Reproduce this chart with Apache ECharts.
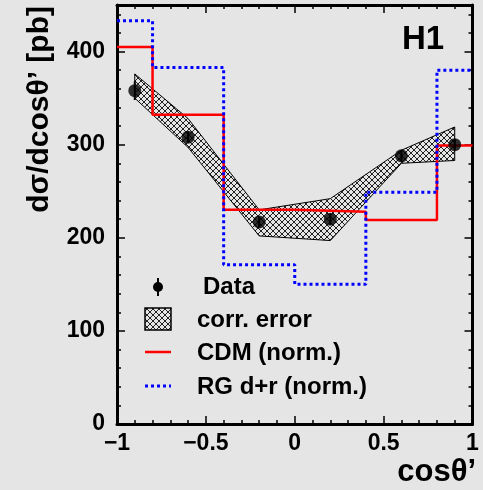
<!DOCTYPE html>
<html>
<head>
<meta charset="utf-8">
<script src="https://cdn.jsdelivr.net/npm/echarts@6/dist/echarts.min.js"></script>
<style>
  html, body { margin: 0; padding: 0; background: #e5e5e5; }
  #chart { width: 483px; height: 490px; }
</style>
</head>
<body>
<div id="chart"></div>
<script>
// data points (H1) with small stat. errors
const pointX = [-0.9, -0.6, -0.2, 0.2, 0.6, 0.9];
const pointY = [358, 308, 217, 220, 288, 300];
const pointErr = [10, 6, 6, 6, 6, 6];
// correlated error band
const bandLow = [350, 297, 202, 197, 280, 283];
const bandHigh = [376, 328, 230, 242, 294, 319];
// model histograms
const binEdges = [-1, -0.8, -0.4, 0, 0.4, 0.8, 1];
const cdmValues = [405, 332, 230, 228, 219, 299];
const rgValues = [433, 383, 171, 150, 249, 380];
// tick labels
const xTickValues = [-1, -0.5, 0, 0.5, 1];
const xTickLabels = ['\u22121', '\u22120.5', '0', '0.5', '1'];
const yTickValues = [0, 100, 200, 300, 400];

const FONT = '"Liberation Sans", Arial, sans-serif';

// cross-hatch pattern for the band
const hatch = document.createElement('canvas');
hatch.width = 6;
hatch.height = 6;
const hc = hatch.getContext('2d');
hc.fillStyle = 'rgba(0,0,0,0.85)';
for (let i = 0; i < 6; i++) {
  hc.fillRect(i, i, 1, 1);
  hc.fillRect(5 - i, i, 1, 1);
}
const hatchFill = { image: hatch, repeat: 'repeat' };

function stepData(values) {
  return binEdges.map((x, i) => [x, values[Math.min(i, values.length - 1)]]);
}

const tickStyle = { color: '#000', width: 1.5 };
function xAxis(pos, showLabel) {
  return {
    type: 'value', position: pos, min: -1, max: 1, interval: 0.5,
    axisLine: { show: true, onZero: false, lineStyle: { color: '#000', width: 3 } },
    axisTick: { show: true, inside: true, length: 8, lineStyle: tickStyle },
    minorTick: { show: true, splitNumber: 5, length: 4, lineStyle: tickStyle },
    splitLine: { show: false },
    axisLabel: {
      show: showLabel, margin: 8, color: '#000', fontSize: 23, fontWeight: 'bold', fontFamily: FONT,
      formatter(v) {
        const i = xTickValues.findIndex(t => Math.abs(t - v) < 1e-6);
        return i >= 0 ? xTickLabels[i] : '';
      },
    },
  };
}
function yAxis(pos, interval, len, showLine, showLabel) {
  return {
    type: 'value', position: pos, min: 0, max: 450, interval: interval,
    axisLine: { show: showLine, onZero: false, lineStyle: { color: '#000', width: 3 } },
    axisTick: { show: true, inside: true, length: len, lineStyle: tickStyle },
    splitLine: { show: false },
    axisLabel: {
      show: showLabel, margin: 12, color: '#000', fontSize: 23, fontWeight: 'bold', fontFamily: FONT,
      formatter(v) { return yTickValues.includes(v) ? String(v) : ''; },
    },
  };
}

const chart = echarts.init(document.getElementById('chart'));
chart.setOption({
  animation: false,
  backgroundColor: '#e5e5e5',
  grid: { left: 117, right: 10.5, top: 5, bottom: 66 },
  xAxis: [xAxis('bottom', true), xAxis('top', false)],
  yAxis: [
    yAxis('left', 100, 8, true, true),
    yAxis('left', 20, 4, false, false),
    yAxis('right', 100, 8, true, false),
    yAxis('right', 20, 4, false, false),
  ],
  series: [
    {
      name: 'corr. error',
      type: 'custom',
      data: [[pointX[0], bandLow[0]]],
      renderItem(params, api) {
        const pts = [];
        pointX.forEach((x, i) => pts.push(api.coord([x, bandHigh[i]])));
        for (let i = pointX.length - 1; i >= 0; i--) pts.push(api.coord([pointX[i], bandLow[i]]));
        return {
          type: 'polygon',
          shape: { points: pts },
          style: { fill: hatchFill, stroke: '#000', lineWidth: 1 },
        };
      },
      z: 1,
    },
    {
      name: 'CDM (norm.)',
      type: 'line',
      step: 'end',
      symbol: 'none',
      data: stepData(cdmValues),
      lineStyle: { color: '#ff0000', width: 2.5 },
      z: 2,
    },
    {
      name: 'RG d+r (norm.)',
      type: 'line',
      step: 'end',
      symbol: 'none',
      data: stepData(rgValues),
      lineStyle: { color: '#0000ff', width: 3, type: [3, 3] },
      z: 3,
    },
    {
      name: 'errors',
      type: 'custom',
      data: pointX.map((x, i) => [x, pointY[i] - pointErr[i], pointY[i] + pointErr[i]]),
      encode: { x: 0, y: [1, 2] },
      renderItem(params, api) {
        const lo = api.coord([api.value(0), api.value(1)]);
        const hi = api.coord([api.value(0), api.value(2)]);
        return {
          type: 'line',
          shape: { x1: lo[0], y1: lo[1], x2: hi[0], y2: hi[1] },
          style: { stroke: '#000', lineWidth: 2 },
        };
      },
      z: 4,
    },
    {
      name: 'Data',
      type: 'scatter',
      symbol: 'circle',
      symbolSize: 13,
      itemStyle: { color: '#000' },
      data: pointX.map((x, i) => [x, pointY[i]]),
      z: 5,
    },
  ],
  graphic: [
    // axis titles
    {
      type: 'text', x: 40, y: 6, rotation: Math.PI / 2,
      style: { text: 'd\u03c3/dcos\u03b8\u2019 [pb]', align: 'right', verticalAlign: 'middle',
        font: 'bold 30px ' + FONT, fill: '#000' },
    },
    {
      type: 'text', x: 476, y: 472,
      style: { text: 'cos\u03b8\u2019', align: 'right', verticalAlign: 'middle',
        font: 'bold 31px ' + FONT, fill: '#000' },
    },
    {
      type: 'text', x: 423, y: 40,
      style: { text: 'H1', align: 'center', verticalAlign: 'middle',
        font: 'bold 33px ' + FONT, fill: '#000' },
    },
    // legend
    { type: 'line', shape: { x1: 158, y1: 278, x2: 158, y2: 296 }, style: { stroke: '#000', lineWidth: 2 } },
    { type: 'circle', shape: { cx: 158, cy: 287, r: 5 }, style: { fill: '#000' } },
    { type: 'text', x: 203, y: 287, style: { text: 'Data', verticalAlign: 'middle', font: 'bold 24px ' + FONT, fill: '#000' } },
    { type: 'rect', shape: { x: 145, y: 308, width: 26, height: 22 }, style: { fill: hatchFill, stroke: '#000', lineWidth: 1.5 } },
    { type: 'text', x: 197, y: 320, style: { text: 'corr. error', verticalAlign: 'middle', font: 'bold 24px ' + FONT, fill: '#000' } },
    { type: 'line', shape: { x1: 145, y1: 352, x2: 171, y2: 352 }, style: { stroke: '#ff0000', lineWidth: 2.5 } },
    { type: 'text', x: 197, y: 353, style: { text: 'CDM (norm.)', verticalAlign: 'middle', font: 'bold 24px ' + FONT, fill: '#000' } },
    { type: 'line', shape: { x1: 145, y1: 386, x2: 171, y2: 386 }, style: { stroke: '#0000ff', lineWidth: 3, lineDash: [3, 3] } },
    { type: 'text', x: 197, y: 387, style: { text: 'RG d+r (norm.)', verticalAlign: 'middle', font: 'bold 24px ' + FONT, fill: '#000' } },
  ],
});
window.addEventListener('resize', () => { chart.resize(); });
</script>
</body>
</html>
